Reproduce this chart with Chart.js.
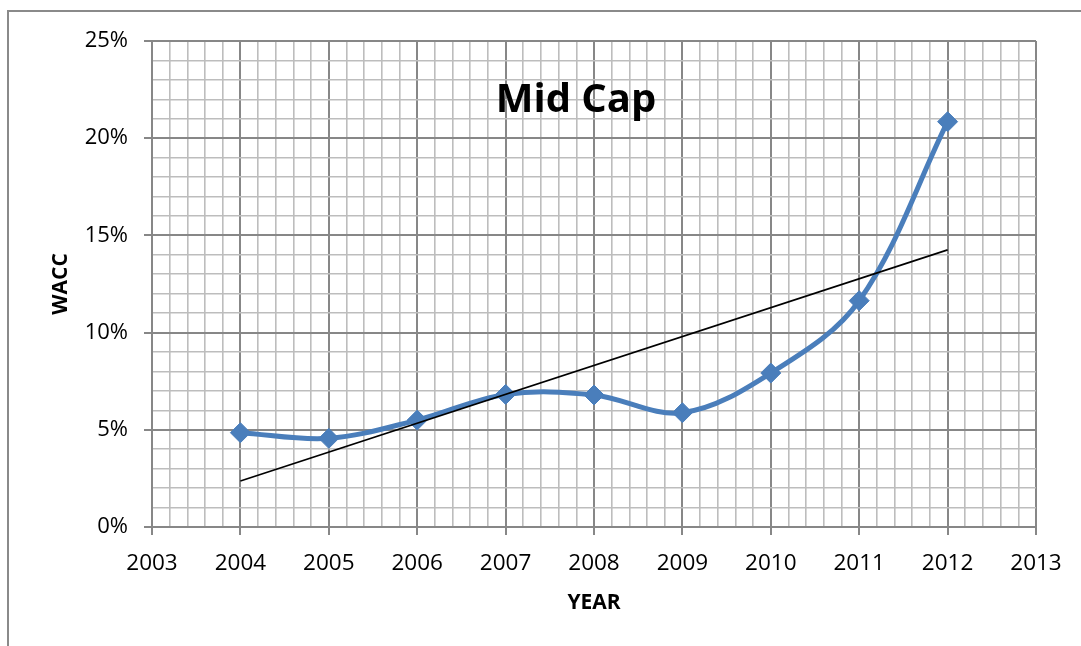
<!DOCTYPE html>
<html lang="en">
<head>
    <meta charset="UTF-8">
    <title>Mid Cap - WACC</title>
    <script src="https://cdn.jsdelivr.net/npm/chart.js"></script>
    <style>
        html, body { margin: 0; padding: 0; background: #fff; }
        canvas { display: block; }
    </style>
</head>
<body>
    <canvas id="waccChart" width="1081" height="646"></canvas>

    <script>
        // WACC by year (percent)
        const years = [2004, 2005, 2006, 2007, 2008, 2009, 2010, 2011, 2012];
        const wacc = [4.85, 4.56, 5.50, 6.82, 6.79, 5.88, 7.92, 11.64, 20.85];

        // axis ranges, minor step and major step
        const xRange = [2003, 2013];
        const xSteps = [0.2, 1];
        const yRange = [0, 25];
        const ySteps = [1, 5];

        const majorGrid = '#878787';
        const minorGrid = '#bdbdbd';
        const lineBlue = '#4A7EBB';

        // linear trendline (least squares) over the series
        function trendline(xs, ys) {
            const n = xs.length;
            const mx = xs.reduce((a, b) => a + b, 0) / n;
            const my = ys.reduce((a, b) => a + b, 0) / n;
            let num = 0, den = 0;
            xs.forEach((x, i) => {
                num += (x - mx) * (ys[i] - my);
                den += (x - mx) * (x - mx);
            });
            const slope = num / den;
            const first = xs[0], last = xs[n - 1];
            return [
                { x: first, y: my + slope * (first - mx) },
                { x: last, y: my + slope * (last - mx) }
            ];
        }

        const isMajor = (v, step) => Math.abs(v / step - Math.round(v / step)) < 1e-6;

        Chart.defaults.font.family = "'Open Sans', sans-serif";
        Chart.defaults.color = '#000';

        // frame around the chart and the overlaid title
        const chartDecor = {
            id: 'chartDecor',
            beforeDraw(chart) {
                const ctx = chart.ctx;
                ctx.save();
                ctx.fillStyle = '#fff';
                ctx.fillRect(0, 0, chart.width, chart.height);
                ctx.strokeStyle = '#8a8a8a';
                ctx.lineWidth = 2;
                ctx.beginPath();
                ctx.moveTo(8, chart.height);
                ctx.lineTo(8, 11);
                ctx.lineTo(chart.width, 11);
                ctx.stroke();
                ctx.restore();
            },
            afterDatasetsDraw(chart) {
                const ctx = chart.ctx;
                ctx.save();
                ctx.font = "bold 40px 'Open Sans', sans-serif";
                ctx.fillStyle = '#000';
                ctx.textAlign = 'center';
                ctx.textBaseline = 'alphabetic';
                ctx.fillText('Mid Cap', 576, 112);
                ctx.restore();
            }
        };

        const ctx = document.getElementById('waccChart').getContext('2d');
        new Chart(ctx, {
            type: 'line',
            data: {
                datasets: [
                    {
                        label: 'Linear (WACC)',
                        data: trendline(years, wacc),
                        borderColor: '#000',
                        borderWidth: 1.6,
                        pointRadius: 0,
                        tension: 0,
                        order: 0
                    },
                    {
                        label: 'WACC',
                        data: years.map((y, i) => ({ x: y, y: wacc[i] })),
                        borderColor: lineBlue,
                        borderWidth: 5,
                        pointStyle: 'rectRot',
                        pointRadius: 10,
                        pointBackgroundColor: lineBlue,
                        pointBorderColor: lineBlue,
                        pointBorderWidth: 1,
                        tension: 0.35,
                        order: 1
                    }
                ]
            },
            options: {
                responsive: false,
                animation: false,
                layout: { padding: { top: 41, right: 45, left: 0, bottom: 0 } },
                plugins: {
                    legend: { display: false },
                    tooltip: { enabled: false }
                },
                scales: {
                    x: {
                        type: 'linear',
                        min: xRange[0],
                        max: xRange[1],
                        afterFit: scale => { scale.height = 119; },
                        ticks: {
                            stepSize: xSteps[0],
                            autoSkip: false,
                            maxRotation: 0,
                            minRotation: 0,
                            padding: 15,
                            font: { size: 22.5 },
                            callback: v => isMajor(v, xSteps[1]) ? String(Math.round(v)) : ''
                        },
                        grid: {
                            color: c => isMajor(c.tick.value, xSteps[1]) ? majorGrid : minorGrid,
                            lineWidth: c => isMajor(c.tick.value, xSteps[1]) ? 2 : 1.6,
                            tickColor: c => isMajor(c.tick.value, xSteps[1]) ? majorGrid : 'transparent',
                            tickLength: 8
                        },
                        border: { color: majorGrid, width: 2 },
                        title: {
                            display: true,
                            text: 'YEAR',
                            font: { size: 21, weight: 'bold' },
                            padding: { top: 0, bottom: 30 }
                        }
                    },
                    y: {
                        min: yRange[0],
                        max: yRange[1],
                        afterFit: scale => { scale.width = 152; },
                        ticks: {
                            stepSize: ySteps[0],
                            autoSkip: false,
                            padding: 16,
                            font: { size: 22 },
                            callback: v => isMajor(v, ySteps[1]) ? v + '%' : ''
                        },
                        grid: {
                            color: c => isMajor(c.tick.value, ySteps[1]) ? majorGrid : minorGrid,
                            lineWidth: c => isMajor(c.tick.value, ySteps[1]) ? 2 : 1.6,
                            tickColor: c => isMajor(c.tick.value, ySteps[1]) ? majorGrid : 'transparent',
                            tickLength: 8
                        },
                        border: { color: majorGrid, width: 2 },
                        title: {
                            display: true,
                            text: 'WACC',
                            font: { size: 21, weight: 'bold' },
                            padding: { top: 48, bottom: 0 }
                        }
                    }
                }
            },
            plugins: [chartDecor]
        });
    </script>
</body>
</html>
